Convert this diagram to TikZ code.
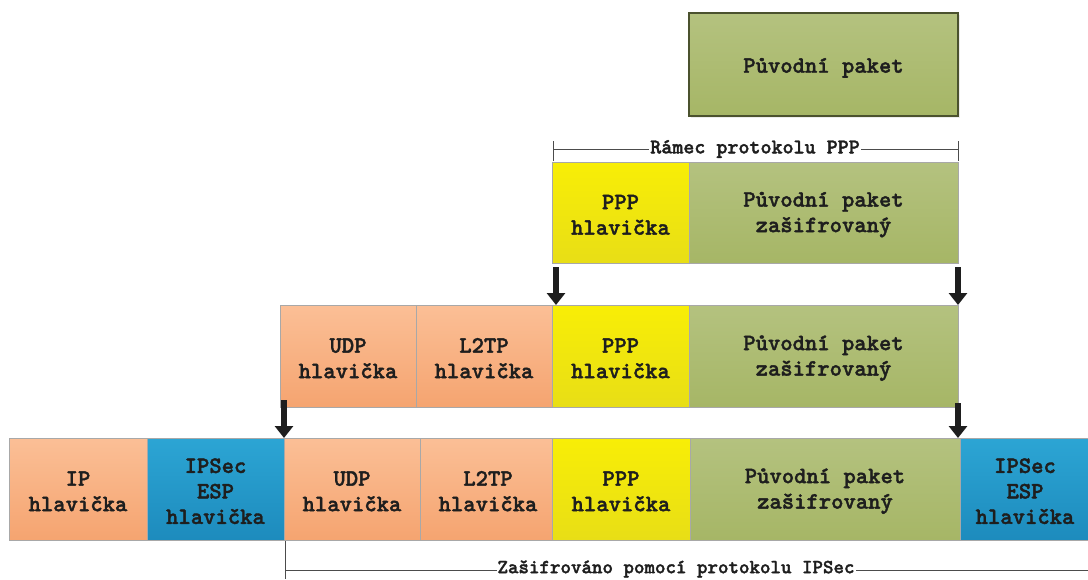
\documentclass[tikz,border=0pt]{standalone}
\usepackage{fontspec}
\newfontfamily\cour{lmmonolt10-bold.otf}[FakeBold=1.6]
\usetikzlibrary{arrows.meta,shadows}
\newcommand\upsp{\rule{0pt}{19pt}}
\definecolor{orT}{HTML}{FBBF96}
\definecolor{orB}{HTML}{F5A470}
\definecolor{yeT}{HTML}{F8EE06}
\definecolor{yeB}{HTML}{E8DE16}
\definecolor{grT}{HTML}{B4C27F}
\definecolor{grB}{HTML}{A6B666}
\definecolor{blT}{HTML}{2CA5D4}
\definecolor{blB}{HTML}{1D8BBD}
\definecolor{txt}{HTML}{1E1E1E}
\definecolor{bord}{HTML}{A8A8A8}
\tikzset{
  cell/.style={draw=bord, line width=0.8pt, inner sep=0pt, outer sep=0pt, anchor=north west,
    minimum height=102pt, align=center, text=txt,
    font=\cour\fontsize{23.5}{25.5}\selectfont},
  orng/.style={cell, top color=orT, bottom color=orB},
  yelw/.style={cell, top color=yeT, bottom color=yeB},
  gren/.style={cell, top color=grT, bottom color=grB},
  blue/.style={cell, top color=blT, bottom color=blB},
  arr/.style={draw=txt, line width=5.5pt, -{Triangle[width=18pt,length=12pt]}},
  brk/.style={draw=black!70, line width=0.6pt},
  brklabel/.style={fill=white, inner sep=1pt, text=txt, font=\cour\fontsize{21}{22}\selectfont}
}
\begin{document}
\begin{tikzpicture}[x=1pt,y=-1pt]
\useasboundingbox (0,0) rectangle (1088,579);
% original packet
\node[gren, draw=black!55!grB, line width=1.2pt, minimum width=269pt, minimum height=103pt,
  drop shadow={opacity=0.15, shadow xshift=2pt, shadow yshift=-2pt}] (orig) at (689,13) {\rule{0pt}{21.5pt}Původní paket};
% row 1
\node[yelw, minimum width=137pt, minimum height=101pt] (ppp1) at (552,162) {\upsp PPP\\hlavička};
\node[gren, minimum width=269pt, minimum height=101pt] (pak1) at (689,162) {\upsp Původní paket\\zašifrovaný};
% bracket PPP frame
\coordinate (b1l) at (553,149);
\coordinate (b1r) at (958,149);
\draw[brk] (b1l) -- (b1r);
\draw[brk] (553,141) -- (553,161);
\draw[brk] (958,141) -- (958,161);
\node[brklabel] (lab1) at (755,149) {Rámec protokolu PPP};
% row 2
\node[orng, minimum width=136pt] (udp2) at (280,305) {\upsp UDP\\hlavička};
\node[orng, minimum width=136pt] (l2tp2) at (416,305) {\upsp L2TP\\hlavička};
\node[yelw, minimum width=137pt] (ppp2) at (552,305) {\upsp PPP\\hlavička};
\node[gren, minimum width=269pt] (pak2) at (689,305) {\upsp Původní paket\\zašifrovaný};
% arrows 1 -> 2
\draw[arr] ([xshift=4pt,yshift=-4pt]ppp1.south west) -- ([xshift=4pt]ppp2.north west);
\draw[arr] ([yshift=-4pt]pak1.south east) -- (pak2.north east);
% row 3
\node[orng, minimum width=138pt] (ip3) at (9,438) {\upsp IP\\hlavička};
\node[blue, minimum width=137pt] (esp3) at (147,438) {\upsp IPSec\\ESP\\hlavička};
\node[orng, minimum width=136pt] (udp3) at (284,438) {\upsp UDP\\hlavička};
\node[orng, minimum width=136pt] (l2tp3) at (420,438) {\upsp L2TP\\hlavička};
\node[yelw, minimum width=138pt] (ppp3) at (552,438) {\upsp PPP\\hlavička};
\node[gren, minimum width=270pt] (pak3) at (690,438) {\upsp Původní paket\\zašifrovaný};
\node[blue, minimum width=130pt] (esp3r) at (960,438) {\upsp IPSec\\ESP\\hlavička};
% arrows 2 -> 3
\draw[arr] ([xshift=4pt,yshift=7pt]udp2.south west) -- (udp3.north west);
\draw[arr] ([yshift=4pt]pak2.south east) -- (pak2.south east |- pak3.north);
% bottom bracket
\coordinate (b2l) at (285,570);
\coordinate (b2r) at (1088,570);
\draw[brk] (b2l) -- (b2r);
\draw[brk] (285,541) -- (285,579);
\node[brklabel, font=\cour\fontsize{20}{21}\selectfont] (lab2) at (676,569) {Zašifrováno pomocí protokolu IPSec};
\end{tikzpicture}
\end{document}
